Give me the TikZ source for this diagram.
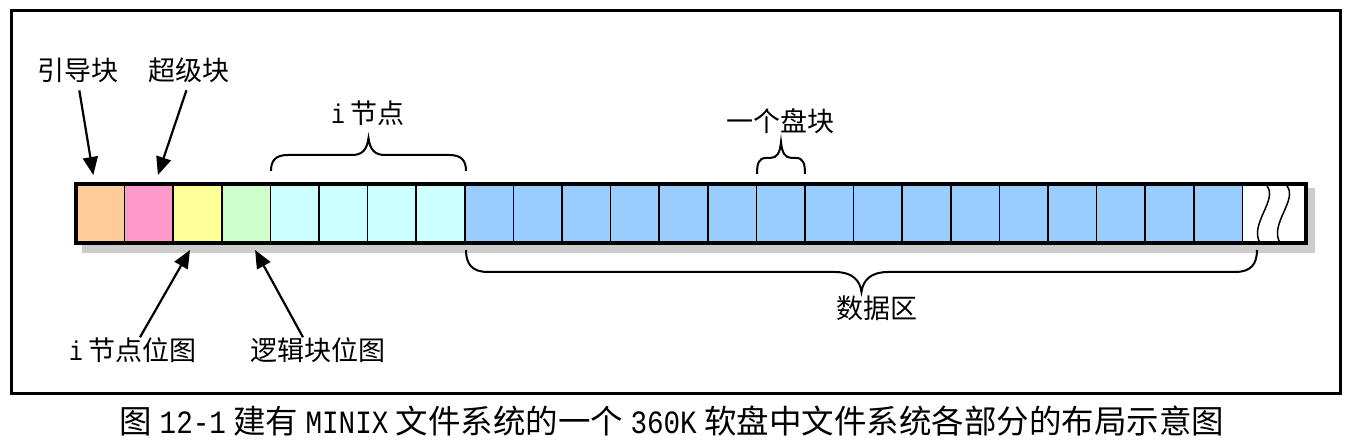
\documentclass[tikz,border=0pt]{standalone}
\usepackage{fontspec}
\newfontfamily\cjk{Noto Sans CJK SC}
\newfontfamily\lat[FakeStretch=0.85]{Liberation Mono}
\usepackage{tikz}
\usetikzlibrary{arrows.meta,positioning}
\definecolor{bootc}{HTML}{FFCC99}
\definecolor{superc}{HTML}{FF99CC}
\definecolor{imapc}{HTML}{FFFF99}
\definecolor{zmapc}{HTML}{CCFFCC}
\definecolor{inodec}{HTML}{CCFFFF}
\definecolor{datac}{HTML}{99CCFF}
\tikzstyle{cell} = [draw, line width=1.5pt, minimum width=48.6pt, minimum height=59pt, inner sep=0pt, outer sep=0pt, anchor=west]
\tikzstyle{arrow} = [line width=2.2pt, -{Triangle[length=18pt,width=15pt]}]
\tikzstyle{lbl} = [font=\cjk\fontsize{27}{27}\selectfont, inner sep=0pt]
\tikzstyle{brace} = [line width=2pt]

\begin{document}
\begin{tikzpicture}[x=1pt,y=-1pt]
\useasboundingbox (0,0) rectangle (1359,443);
\draw [line width=3pt] (11,11) rectangle (1340,393);

% shadow under the strip
\fill [black!20] (82,188) rectangle (1315,253);

% blocks of the floppy
\node (c1) [cell, fill=bootc] at (76,214) {};
\node (c2) [cell, fill=superc, right=0pt of c1] {};
\node (c3) [cell, fill=imapc, right=0pt of c2] {};
\node (c4) [cell, fill=zmapc, right=0pt of c3] {};
\foreach \i in {5,...,8}
  \node (c\i) [cell, fill=inodec] at ({76+(\i-1)*48.6},214) {};
\foreach \i in {9,...,24}
  \node (c\i) [cell, fill=datac] at ({76+(\i-1)*48.6},214) {};
\node (tail) [cell, fill=white, minimum width=64pt, right=0pt of c24] {};
\draw [line width=4pt] (c1.north west) rectangle (tail.south east);
\draw [line width=1.5pt] (1267,186) .. controls (1278,200) and (1249,224) .. (1260,243);
\draw [line width=1.5pt] (1287,186) .. controls (1298,200) and (1269,224) .. (1280,243);

% labels
\node (boot) [lbl] at (78,70) {引导块};
\node (super) [lbl] at (189,70) {超级块};
\node (inode) [lbl] at (368,113) {{\lat i} 节点};
\node (block) [lbl] at (780,121) {一个盘块};
\node (data) [lbl] at (877,308) {数据区};
\node (ibmp) [lbl] at (133,350) {{\lat i} 节点位图};
\node (zbmp) [lbl] at (318,350) {逻辑块位图};

\draw [arrow, shorten <=8pt] (boot.south) -- ([xshift=-7pt,yshift=9.5pt]c1.north);
\draw [arrow, shorten <=8pt] (super.south) -- ([xshift=9pt,yshift=9.5pt]c2.north);
\draw [arrow] ([xshift=7pt]ibmp.north) -- ([xshift=-7.5pt,yshift=-6.5pt]c3.south);
\draw [arrow] ([xshift=-15pt]zbmp.north) -- ([xshift=9pt,yshift=-6.5pt]c4.south);

% braces
\draw [brace] (271,171) .. controls (271,160) and (276,155) .. (288,155) -- (352,155)
  .. controls (362,155) and (367,150) .. (368.5,138) .. controls (370,150) and (375,155) .. (385,155)
  -- (449,155) .. controls (461,155) and (466,160) .. (466,171);
\draw [brace] (757,174) .. controls (757,163) and (759,158) .. (766,158) -- (770,158)
  .. controls (777,158) and (780,153) .. (781,142) .. controls (782,153) and (785,158) .. (792,158)
  -- (796,158) .. controls (803,158) and (805,163) .. (805,174);
\draw [brace] (466,250) .. controls (466,264) and (472,272) .. (488,272) -- (835,272)
  .. controls (852,272) and (860,280) .. (861.5,292) .. controls (863,280) and (871,272) .. (888,272)
  -- (1235,272) .. controls (1251,272) and (1257,264) .. (1257,250);

\node (caption) [font=\cjk\fontsize{32.5}{32.5}\selectfont, inner sep=0pt] at (672,421)
  {图 {\lat 12-1} 建有 {\lat MINIX} 文件系统的一个 {\lat 360K} 软盘中文件系统各部分的布局示意图};
\end{tikzpicture}
\end{document}
